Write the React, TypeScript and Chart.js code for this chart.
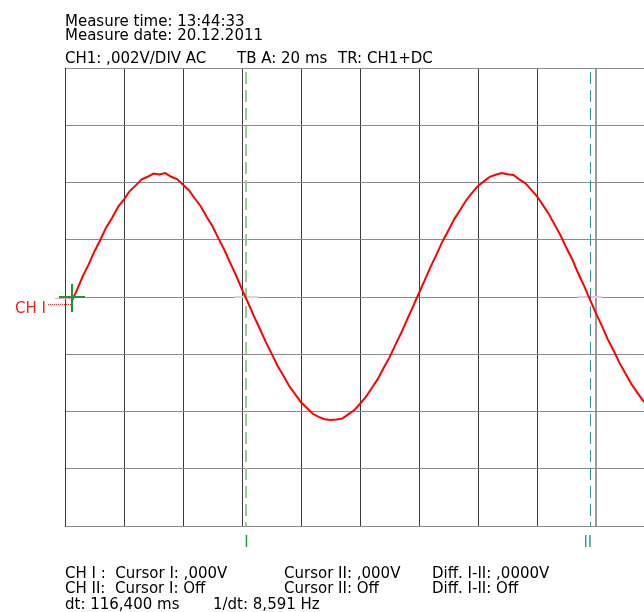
import React, { useEffect, useRef } from "react";
import { Chart, registerables } from "chart.js";

Chart.register(...registerables);

// ---- data (time in ms, CH1 in mV) ----
const timeMs = [
  2.4, 4, 6, 8, 10, 12, 14, 16, 18, 20, 22, 24, 26, 28, 30, 32, 34, 36, 38, 40,
  42, 44, 46, 48, 50, 52, 54, 56, 58, 60, 62, 64, 66, 68, 70, 72, 74, 76, 78, 80,
  82, 84, 86, 88, 90, 92, 94, 96, 98, 100, 102, 104, 106, 108, 110, 112, 114, 116, 118, 120,
  122, 124, 126, 128, 130, 132, 134, 136, 138, 140, 142, 144, 146, 148, 150, 152, 154, 156, 158, 160,
  162, 164, 166, 168, 170, 172, 174, 176, 178, 180, 182, 184, 186, 188, 190, 192, 194, 196, 198, 200,
];
const ch1mV = [
  -0.12, 0.23, 0.72, 1.13, 1.6, 2.0, 2.44, 2.77, 3.15, 3.41, 3.71, 3.9, 4.11, 4.2, 4.31, 4.28, 4.33, 4.2, 4.12, 3.92,
  3.73, 3.44, 3.17, 2.8, 2.47, 2.05, 1.65, 1.19, 0.75, 0.27, -0.19, -0.66, -1.1, -1.56, -1.97, -2.39, -2.74, -3.11, -3.39, -3.68,
  -3.88, -4.08, -4.19, -4.27, -4.3, -4.28, -4.25, -4.1, -3.96, -3.73, -3.49, -3.18, -2.87, -2.48, -2.11, -1.67, -1.25, -0.78, -0.33, 0.14,
  0.6, 1.07, 1.5, 1.95, 2.33, 2.73, 3.05, 3.38, 3.64, 3.88, 4.04, 4.2, 4.27, 4.33, 4.29, 4.26, 4.11, 3.98, 3.75, 3.52,
  3.21, 2.9, 2.52, 2.15, 1.71, 1.3, 0.82, 0.38, -0.1, -0.57, -1.01, -1.48, -1.88, -2.31, -2.67, -3.04, -3.34, -3.63, -3.84, -4.04,
];
const xTicksMs = [0, 20, 40, 60, 80, 100, 120, 140, 160, 180, 200];
const yTicksMv = [-8, -6, -4, -2, 0, 2, 4, 6, 8];
const cursorIMs = 61.5;
const cursorIIMs = 177.9;
const triggerMs = 2.4;
const triggerMv = 0;

const headerTexts = [
  { text: "Measure time: 13:44:33", x: 65, y: 26 },
  { text: "Measure date: 20.12.2011", x: 65, y: 40 },
  { text: "CH1: ,002V/DIV AC", x: 65, y: 63 },
  { text: "TB A: 20 ms", x: 237, y: 63 },
  { text: "TR: CH1+DC", x: 338, y: 63 },
];
const footerTexts = [
  { text: "CH I :  Cursor I: ,000V", x: 65, y: 578 },
  { text: "Cursor II: ,000V", x: 284, y: 578 },
  { text: "Diff. I-II: ,0000V", x: 432, y: 578 },
  { text: "CH II:  Cursor I: Off", x: 65, y: 593 },
  { text: "Cursor II: Off", x: 284, y: 593 },
  { text: "Diff. I-II: Off", x: 432, y: 593 },
  { text: "dt: 116,400 ms", x: 65, y: 609 },
  { text: "1/dt: 8,591 Hz", x: 213, y: 609 },
];

const FONT = '15px "DejaVu Sans", sans-serif';
const GREEN_CURSOR = "#8fcf8f";
const GREEN_LABEL = "#1f9a3f";
const TEAL = "#2f9a94";

const overlayPlugin = {
  id: "scopeOverlay",
  beforeDatasetsDraw(chart: any) {
    const { ctx, chartArea, scales } = chart;
    const xs = scales.x;
    const ys = scales.y;
    const zeroY = ys.getPixelForValue(0);
    ctx.save();
    const c1 = xs.getPixelForValue(cursorIMs);
    const c2 = xs.getPixelForValue(cursorIIMs);
    ctx.lineWidth = 2;
    ctx.strokeStyle = "#bfe6bf";
    ctx.beginPath();
    ctx.moveTo(c1 - 12, zeroY);
    ctx.lineTo(c1 + 12, zeroY);
    ctx.stroke();
    ctx.strokeStyle = "#f2c0ec";
    ctx.beginPath();
    ctx.moveTo(c2 - 12, zeroY);
    ctx.lineTo(c2 + 12, zeroY);
    ctx.stroke();
    ctx.setLineDash([12, 6]);
    ctx.lineWidth = 2;
    ctx.strokeStyle = GREEN_CURSOR;
    ctx.beginPath();
    ctx.moveTo(Math.round(c1), chartArea.top + 4);
    ctx.lineTo(Math.round(c1), chartArea.bottom);
    ctx.stroke();
    ctx.lineWidth = 1;
    ctx.strokeStyle = TEAL;
    ctx.beginPath();
    ctx.moveTo(Math.round(c2) + 0.5, chartArea.top + 4);
    ctx.lineTo(Math.round(c2) + 0.5, chartArea.bottom);
    ctx.stroke();
    ctx.restore();
  },
  afterDatasetsDraw(chart: any) {
    const { ctx, scales } = chart;
    const xs = scales.x;
    const ys = scales.y;
    const tx = Math.round(xs.getPixelForValue(triggerMs));
    const ty = Math.round(ys.getPixelForValue(triggerMv));
    ctx.save();
    ctx.strokeStyle = "#f4a0b4";
    ctx.lineWidth = 1;
    ctx.beginPath();
    ctx.moveTo(55, ty + 1.5);
    ctx.lineTo(tx, ty + 1.5);
    ctx.stroke();
    ctx.strokeStyle = "#ff2020";
    ctx.setLineDash([1, 1]);
    ctx.beginPath();
    ctx.moveTo(48, ty + 7.5);
    ctx.lineTo(tx, ty + 7.5);
    ctx.stroke();
    ctx.setLineDash([]);
    ctx.strokeStyle = "#1a9a2a";
    ctx.lineWidth = 2;
    ctx.beginPath();
    ctx.moveTo(tx - 13, ty);
    ctx.lineTo(tx + 13, ty);
    ctx.moveTo(tx, ty - 13);
    ctx.lineTo(tx, ty + 15);
    ctx.stroke();
    ctx.fillStyle = "#3a6fd8";
    ctx.fillRect(tx - 1, ty - 1, 2, 2);
    ctx.restore();
  },
  afterDraw(chart: any) {
    const { ctx, scales } = chart;
    const xs = scales.x;
    const ys = scales.y;
    ctx.save();
    ctx.font = FONT;
    ctx.textBaseline = "alphabetic";
    ctx.textAlign = "left";
    ctx.fillStyle = "#000";
    for (const t of headerTexts) ctx.fillText(t.text, t.x, t.y);
    for (const t of footerTexts) ctx.fillText(t.text, t.x, t.y);
    ctx.fillStyle = "#ff1a1a";
    ctx.fillText("CH I", 15, Math.round(ys.getPixelForValue(0)) + 16);
    ctx.textAlign = "center";
    ctx.fillStyle = GREEN_LABEL;
    ctx.fillText("I", xs.getPixelForValue(cursorIMs), 547);
    ctx.fillStyle = TEAL;
    ctx.fillText("II", xs.getPixelForValue(cursorIIMs) - 2, 547);
    ctx.restore();
  },
};

export default function App() {
  const ref = useRef<HTMLCanvasElement | null>(null);
  useEffect(() => {
    if (!ref.current) return;
    const chart = new Chart(ref.current, {
      type: "line",
      data: {
        datasets: [
          {
            data: timeMs.map((t, i) => ({ x: t, y: ch1mV[i] })),
            borderColor: "#ff0000",
            borderWidth: 2,
            pointRadius: 0,
            tension: 0,
            fill: false,
          },
        ],
      },
      options: {
        animation: false,
        responsive: false,
        devicePixelRatio: 1,
        layout: { padding: { left: 65, top: 68, right: 15, bottom: 86 } },
        plugins: { legend: { display: false }, tooltip: { enabled: false }, title: { display: false } },
        events: [],
        scales: {
          x: {
            type: "linear",
            min: 0,
            max: 200,
            afterBuildTicks: (s: any) => {
              s.ticks = xTicksMs.map((v) => ({ value: v }));
            },
            afterFit: (s: any) => {
              s.height = 0;
            },
            ticks: { display: false },
            grid: {
              drawTicks: false,
              tickLength: 0,
              color: (c: any) => (c.tick && c.tick.value === 180 ? "#9a9a9a" : "#3a3a3a"),
              lineWidth: (c: any) => (c.tick && c.tick.value === 180 ? 2 : 1),
            },
            border: { display: true, color: "#8c8c8c", width: 1 },
          },
          y: {
            type: "linear",
            min: -8,
            max: 8,
            afterBuildTicks: (s: any) => {
              s.ticks = yTicksMv.map((v) => ({ value: v }));
            },
            afterFit: (s: any) => {
              s.width = 0;
            },
            ticks: { display: false },
            grid: { drawTicks: false, tickLength: 0, color: "#8c8c8c", lineWidth: 1 },
            border: { display: true, color: "#3a3a3a", width: 1 },
          },
        },
      },
      plugins: [overlayPlugin],
    });
    return () => chart.destroy();
  }, []);
  return (
    <div
      style={{
        position: "absolute",
        left: 0,
        top: 0,
        width: 644,
        height: 612,
        overflow: "hidden",
        background: "#fff",
      }}
    >
      <canvas ref={ref} width={670} height={612} style={{ display: "block", width: 670, height: 612 }} />
    </div>
  );
}
